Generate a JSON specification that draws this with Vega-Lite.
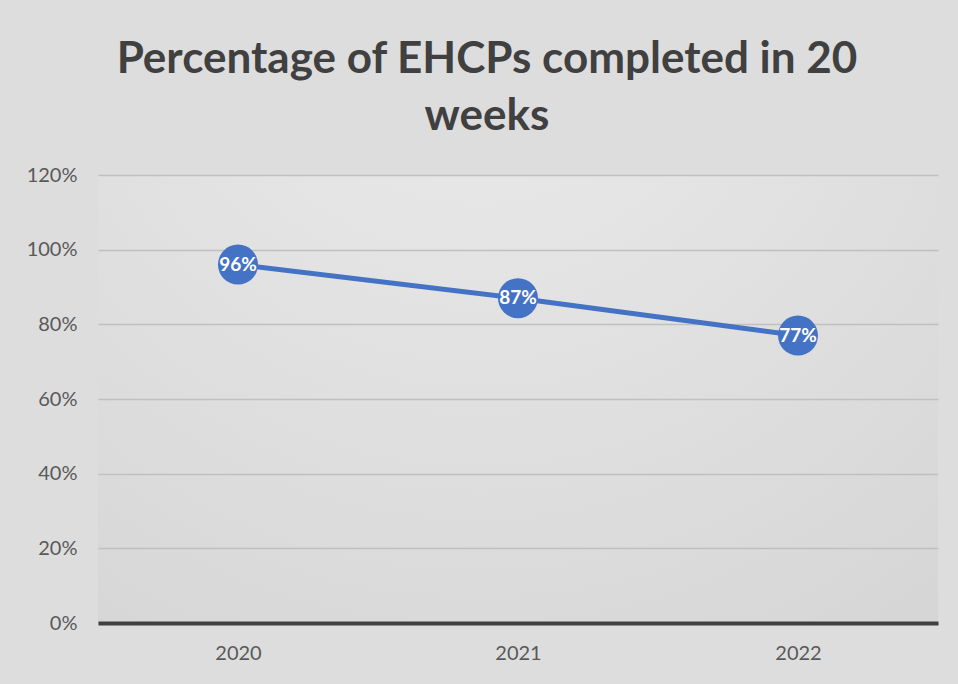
{
  "$schema": "https://vega.github.io/schema/vega-lite/v6.json",
  "autosize": {"type": "none"},
  "width": 840,
  "height": 448,
  "padding": {"left": 98, "top": 175, "right": 20, "bottom": 61},
  "background": "#dddddd",
  "title": {
    "text": ["Percentage of EHCPs completed in 20", "weeks"],
    "font": "Lato",
    "fontSize": 44,
    "fontWeight": "bold",
    "color": "#404040",
    "lineHeight": 57,
    "anchor": "middle",
    "dx": -31,
    "offset": 26
  },
  "data": {
    "values": [
      {"year": "2020", "pct": 0.96},
      {"year": "2021", "pct": 0.87},
      {"year": "2022", "pct": 0.77}
    ]
  },
  "encoding": {
    "x": {
      "field": "year", "type": "ordinal", "title": null,
      "scale": {"type": "point", "padding": 0.5},
      "axis": {
        "labelAngle": 0, "labelFont": "Lato", "labelFontSize": 20, "labelColor": "#595959",
        "domainColor": "#404040", "domainWidth": 4, "domainCap": "butt", "ticks": false,
        "labelPadding": 20, "grid": false
      }
    },
    "y": {
      "field": "pct", "type": "quantitative", "title": null,
      "scale": {"domain": [0, 1.2], "nice": false},
      "axis": {
        "values": [0, 0.2, 0.4, 0.6, 0.8, 1.0, 1.2], "format": ".0%",
        "labelFont": "Lato", "labelFontSize": 20, "labelColor": "#595959",
        "domain": false, "ticks": false, "labelPadding": 21,
        "gridColor": "#c0c0c0", "gridWidth": 1.5
      }
    }
  },
  "layer": [
    {"mark": {"type": "line", "color": "#4472C4", "strokeWidth": 5}},
    {"mark": {"type": "circle", "color": "#4472C4", "opacity": 1, "size": 1600}},
    {
      "mark": {"type": "text", "color": "white", "font": "Lato", "fontSize": 19, "fontWeight": "bold", "align": "center", "baseline": "middle"},
      "encoding": {"text": {"field": "pct", "type": "quantitative", "format": ".0%"}}
    }
  ],
  "config": {
    "view": {
      "stroke": null,
      "fill": {"gradient": "radial", "x1": 0.45, "y1": 0.0, "r1": 0, "x2": 0.45, "y2": 0.0, "r2": 1.0,
        "stops": [{"offset": 0, "color": "#ececec"}, {"offset": 1, "color": "#d4d4d4"}]}
    }
  }
}
